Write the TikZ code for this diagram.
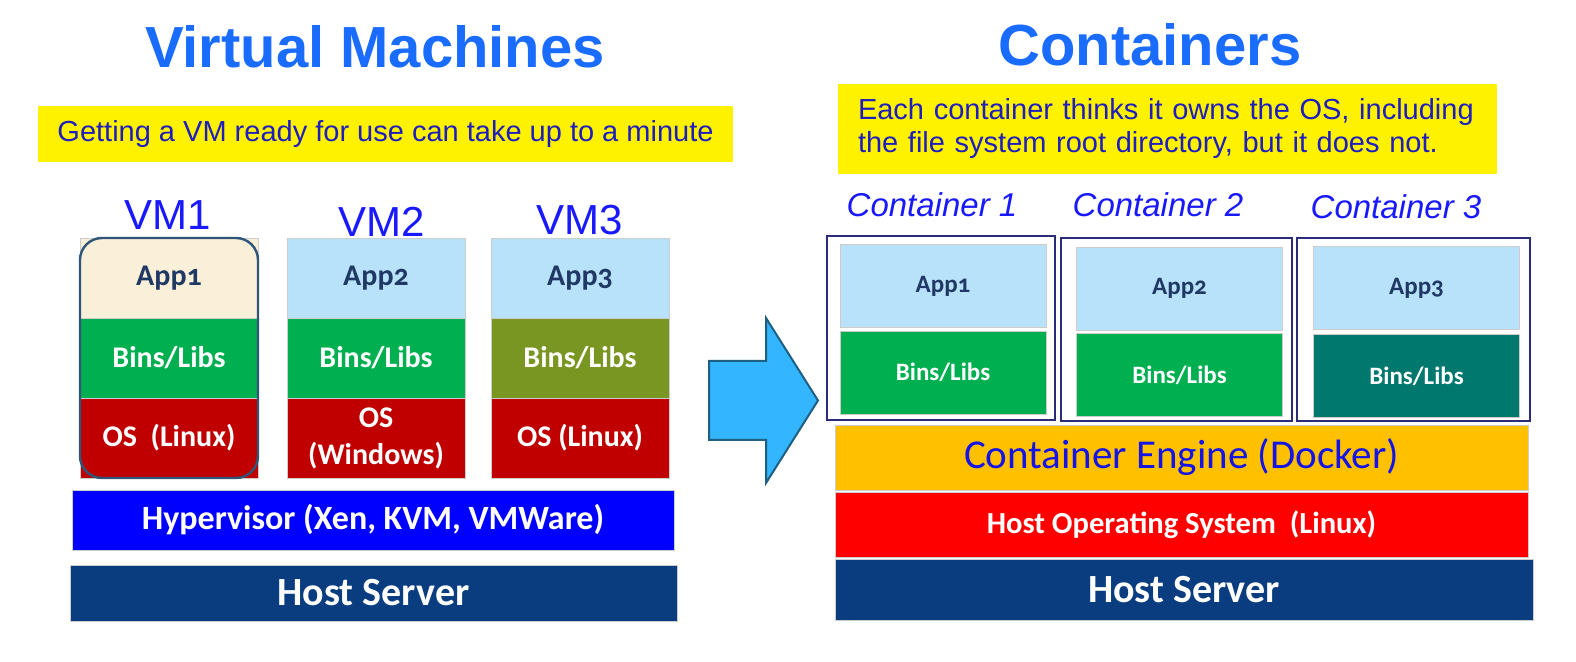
\documentclass[tikz,border=0pt]{standalone}
\usepackage{fontspec}
\setmainfont{Liberation Sans}
\newfontfamily\boxfont{Carlito}[Numbers=OldStyle]

\definecolor{titleblue}{HTML}{1A6CFF}
\definecolor{notetext}{HTML}{1E1EBE}
\definecolor{labelblue}{HTML}{1919FF}
\definecolor{appcream}{HTML}{FAEFD8}
\definecolor{applight}{HTML}{B8E1FA}
\definecolor{appnavy}{HTML}{1F3864}
\definecolor{binsgreen}{HTML}{00B050}
\definecolor{binsolive}{HTML}{7A9622}
\definecolor{binsteal}{HTML}{00786E}
\definecolor{osred}{HTML}{C00000}
\definecolor{hyperblue}{HTML}{0000FF}
\definecolor{serverblue}{HTML}{0A3D80}
\definecolor{arrowfill}{HTML}{33B5FF}
\definecolor{arrowdraw}{HTML}{1F5F82}
\definecolor{vmframe}{HTML}{2F5578}
\definecolor{ctframe}{HTML}{2B2B78}
\definecolor{enginegold}{HTML}{FFC000}
\definecolor{enginetext}{HTML}{1414E6}
\definecolor{hostred}{HTML}{FF0000}

\begin{document}
\begin{tikzpicture}[x=0.5pt, y=-0.5pt,
  title/.style={font=\bfseries\fontsize{29}{34}\selectfont, text=titleblue},
  note/.style={fill=yellow, inner sep=0pt, text=notetext, font=\fontsize{14.5}{16.5}\selectfont},
  vmlabel/.style={text=labelblue, font=\fontsize{21}{24}\selectfont},
  ctlabel/.style={text=labelblue, font=\itshape\fontsize{16.5}{20}\selectfont},
  layer/.style={draw=black!20, line width=0.4pt, rectangle, inner sep=0pt, outer sep=0pt,
    text=white, align=center, font=\boxfont\bfseries\fontsize{15}{18.5}\selectfont},
  vmlayer/.style={layer, minimum width=89pt, minimum height=40pt},
  ctlayer/.style={layer, minimum width=103pt, minimum height=41.5pt, font=\boxfont\bfseries\fontsize{12.5}{15}\selectfont},
  apptext/.style={text=appnavy},
  ctbox/.style={draw=ctframe, line width=1.2pt, fill=white, inner sep=0pt, minimum height=92pt},
  bigarrow/.style={fill=arrowfill, draw=arrowdraw, line width=1pt, line join=miter}
]

\fill[white] (0,0) rectangle (1576,662);

\node[title] (vmtitle) at (375,47) {Virtual Machines};
\node[title] (cttitle) at (1150,45) {Containers};

\node[note, minimum width=347.5pt, minimum height=28pt] (vmnote) at (385.5,134)
  {Getting a VM ready for use can take up to a minute};
\node[note, text width=309.5pt, inner xsep=10pt, minimum height=45pt, align=left] (ctnote) at (1167.5,129)
  {Each container thinks it owns the OS, including\\the file system root directory, but it does not.};

\node[vmlabel] (vm1) at (168,215) {VM1};
\node[vmlabel] (vm2) at (382,222) {VM2};
\node[vmlabel] (vm3) at (580,220) {VM3};

\node[vmlayer, apptext, fill=appcream] (app1) at (169,278) {App1};
\node[vmlayer, fill=binsgreen] (bins1) at (169,358) {Bins/Libs};
\node[vmlayer, fill=osred] (os1) at (169,438) {OS~~(Linux)};
\draw[vmframe, line width=1.2pt, rounded corners=11pt] (app1.north west) rectangle (os1.south east);

\node[vmlayer, apptext, fill=applight] (app2) at (376,278) {App2};
\node[vmlayer, fill=binsgreen] (bins2) at (376,358) {Bins/Libs};
\node[vmlayer, fill=osred] (os2) at (376,438) {OS\\(Windows)};

\node[vmlayer, apptext, fill=applight] (app3) at (580,278) {App3};
\node[vmlayer, fill=binsolive] (bins3) at (580,358) {Bins/Libs};
\node[vmlayer, fill=osred] (os3) at (580,438) {OS (Linux)};

\node[layer, fill=hyperblue, minimum width=301pt, minimum height=30pt,
  font=\boxfont\bfseries\fontsize{17}{20}\selectfont] (hyper) at (373,520) {Hypervisor (Xen, KVM, VMWare)};
\node[layer, fill=serverblue, minimum width=303.5pt, minimum height=28pt,
  font=\boxfont\bfseries\fontsize{20}{24}\selectfont] (vmserver) at (373.5,593) {Host Server};

\draw[bigarrow] (709,361) -- (766,361) -- (766,318) -- (818,400.5) -- (766,483) -- (766,440) -- (709,440) -- cycle;

\node[ctlabel] (ct1) at (932,205) {Container 1};
\node[ctlabel] (ct2) at (1158,205) {Container 2};
\node[ctlabel] (ct3) at (1396,207) {Container 3};

\node[ctbox, minimum width=114pt] (c1) at (941,328) {};
\node[ctbox, minimum width=115.5pt, minimum height=91.5pt] (c2) at (1176.5,329.5) {};
\node[ctbox, minimum width=116.5pt, minimum height=91.5pt] (c3) at (1413.5,329.5) {};

\node[ctlayer, apptext, fill=applight] (capp1) at (943,286) {App1};
\node[ctlayer, fill=binsgreen] (cbins1) at (943,372.5) {Bins/Libs};
\node[ctlayer, apptext, fill=applight] (capp2) at (1179.5,288.5) {App2};
\node[ctlayer, fill=binsgreen] (cbins2) at (1179.5,375) {Bins/Libs};
\node[ctlayer, apptext, fill=applight] (capp3) at (1416.5,288) {App3};
\node[ctlayer, fill=binsteal] (cbins3) at (1416.5,376) {Bins/Libs};

\node[layer, fill=enginegold, text=enginetext, minimum width=346.5pt, minimum height=32.5pt,
  font=\boxfont\fontsize{20.5}{24}\selectfont] (engine) at (1181.5,457.5) {Container Engine (Docker)};
\node[layer, fill=hostred, minimum width=346.5pt, minimum height=32.5pt,
  font=\boxfont\bfseries\fontsize{15.3}{18}\selectfont] (hostos) at (1181.5,524.5) {Host Operating System~~(Linux)};
\node[layer, fill=serverblue, minimum width=349pt, minimum height=30.5pt,
  font=\boxfont\bfseries\fontsize{20}{24}\selectfont] (ctserver) at (1184,589.5) {Host Server};

\end{tikzpicture}
\end{document}
